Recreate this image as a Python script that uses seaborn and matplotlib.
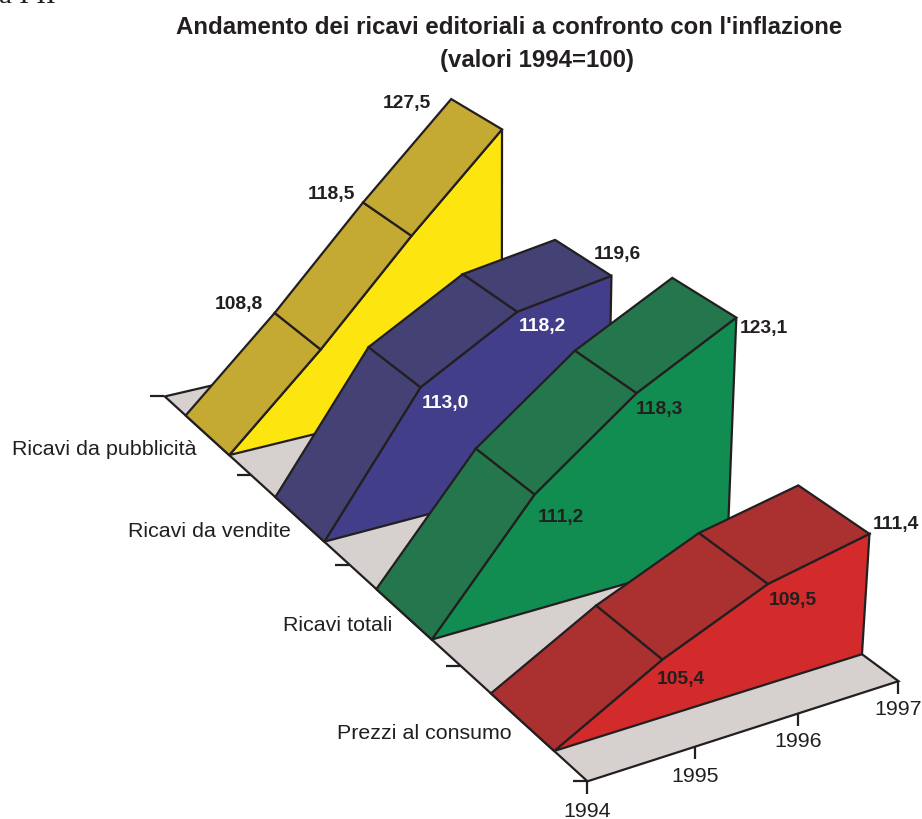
import numpy as np
import pandas as pd
import seaborn as sns
import matplotlib
matplotlib.use("Agg")
import matplotlib.pyplot as plt
from mpl_toolkits.mplot3d import proj3d
from mpl_toolkits.mplot3d.art3d import Poly3DCollection

years = [1994, 1995, 1996, 1997]
series_names = ["Prezzi al consumo", "Ricavi totali", "Ricavi da vendite", "Ricavi da pubblicità"]
prezzi = [100, 105.4, 109.5, 111.4]
totali = [100, 111.2, 118.3, 123.1]
vendite = [100, 113.0, 118.2, 119.6]
pubblicita = [100, 108.8, 118.5, 127.5]

front_colors = ["#d32a2b", "#118d52", "#433e8a", "#fde50f"]
top_colors = ["#ab3030", "#24774c", "#444175", "#c4a933"]
floor_color = "#d6d0ce"
ink = "#231f20"

# pixel offsets of the value labels from their corner, 1995-1997
label_offsets = [
    [(19, -20), (25, -16), (27, 10)],
    [(27, -23), (23, -16), (28, -10)],
    [(25, -16), (26, -14), (6, 22)],
    [(-35, 9), (-31, 8), (-44, -4)],
]
label_colors = [
    [ink, ink, ink],
    [ink, ink, ink],
    ["white", "white", ink],
    [ink, ink, ink],
]
# pixel offsets of the series names and year labels
name_offsets = [(-10, -11), (-11, -11), (-8, -12), (-10, -14)]
year_offsets = [(0, -30), (0, -29), (0, -28), (0, -28)]

df = pd.DataFrame(dict(zip(series_names, [prezzi, totali, vendite, pubblicita])), index=years)

sns.set_theme(style="white")
plt.rcParams["font.family"] = ["Liberation Sans", "DejaVu Sans"]

W, H = 922, 820
# camera and placement of the 3d box on the page
S, CX, CY = 5373.4, 496.43, 376.28

fig = plt.figure(figsize=(W / 100, H / 100), dpi=100)
ax = fig.add_axes([0, 0, 1, 1], projection="3d", computed_zorder=False)
ax.set_xlim(years[0], years[-1])
ax.set_ylim(0, len(series_names))
ax.set_zlim(100, 130)
ax.view_init(24.98, -119.95, -0.02)
ax.set_proj_type("persp", focal_length=0.5346)
ax.set_box_aspect((0.37398, 1, 0.37353))
ax.set_axis_off()
ax.patch.set_visible(False)

x0, x1 = ax.viewLim.intervalx
y0, y1 = ax.viewLim.intervaly
side = S * (x1 - x0)
ax.set_position([(CX + S * x0) / W, (H - CY + S * y0) / H, side / W, side / H])
M = ax.get_proj()

LW = 1.6
z = 1


def add_poly(verts, color):
    global z
    poly = Poly3DCollection([verts], facecolors=color, edgecolors=ink, linewidths=LW, closed=True)
    poly.set_zorder(z)
    poly.set_joinstyle("miter")
    z += 1
    ax.add_collection3d(poly)


def label_at(text, x, y, v, offset, **kw):
    tx, ty, _ = proj3d.proj_transform(x, y, v, M)
    ax.annotate(text, xy=(tx, ty), xytext=offset, textcoords="offset pixels",
                va="center", color=kw.pop("color", ink), zorder=50, annotation_clip=False, **kw)


# floor
add_poly([(years[0], 0, 100), (years[-1], 0, 100),
          (years[-1], len(series_names), 100), (years[0], len(series_names), 100)], floor_color)

# ticks on the floor edges
ax.plot(years, [0] * 4, [100] * 4, ls="none", marker=3, ms=9.5, mew=LW, color=ink, zorder=1.5)
ax.plot([years[0]] * 5, range(5), [100] * 5, ls="none", marker=0, ms=10, mew=LW, color=ink, zorder=1.5)

# ribbons, back to front
for i in range(len(series_names) - 1, -1, -1):
    vals = df[series_names[i]].to_numpy()
    yf, yb = i + 0.25, i + 0.75
    add_poly([(years[0], yf, 100)] + [(yr, yf, v) for yr, v in zip(years, vals)] + [(years[-1], yf, 100)],
             front_colors[i])
    for j in range(len(years) - 1):
        add_poly([(years[j], yf, vals[j]), (years[j + 1], yf, vals[j + 1]),
                  (years[j + 1], yb, vals[j + 1]), (years[j], yb, vals[j])], top_colors[i])

    # yellow labels hang off the back edge, the others off the front one
    anchor_y = yb if i == 3 else yf
    for j in range(1, len(years)):
        txt = f"{vals[j]:.1f}".replace(".", ",")
        label_at(txt, years[j], anchor_y, vals[j], label_offsets[i][j - 1],
                 color=label_colors[i][j - 1], fontsize=13.9, fontweight="bold", ha="center")
    label_at(series_names[i], years[0], i + 0.5, 100, name_offsets[i], fontsize=15.4, ha="right")

for yr, off in zip(years, year_offsets):
    label_at(str(yr), yr, 0, 100, off, fontsize=15.4, ha="center")

# the two title lines are not centred on each other in the original
fig.text(509.5 / W, 1 - 27 / H, "Andamento dei ricavi editoriali a confronto con l'inflazione",
         ha="center", va="center", fontsize=17.3, fontweight="bold", color=ink)
fig.text(537 / W, 1 - 60 / H, "(valori 1994=100)",
         ha="center", va="center", fontsize=17.3, fontweight="bold", color=ink)
fig.text(-1 / W, 1 - 3 / H, "a I II", family="Liberation Serif", fontsize=21, color=ink, va="baseline")

fig.savefig("out.png", dpi=100)
